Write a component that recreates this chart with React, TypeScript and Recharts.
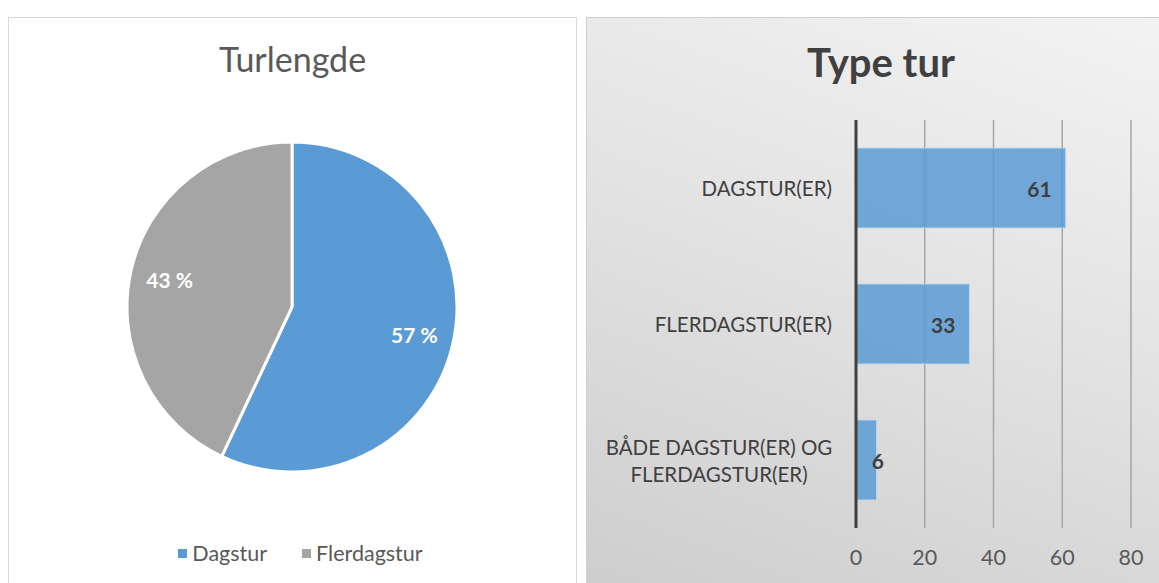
import React from 'react'
import {
  PieChart,
  Pie,
  Cell,
  Legend,
  BarChart,
  Bar,
  XAxis,
  YAxis,
  CartesianGrid,
  LabelList,
} from 'recharts'

// Turlengde (pie)
const lengthNames = ['Dagstur', 'Flerdagstur']
const lengthShares = [57, 43]
const lengthColors = ['#5b9bd5', '#a5a5a5']

// Type tur (bar)
const typeCategories = ['DAGSTUR(ER)', 'FLERDAGSTUR(ER)', 'BÅDE DAGSTUR(ER) OG FLERDAGSTUR(ER)']
const typeCounts = [61, 33, 6]
const typeTicks = [0, 20, 40, 60, 80]

const FONT = 'Lato, "Open Sans", sans-serif'

const pieData = lengthNames.map((name, i) => ({ name, value: lengthShares[i] }))
const barData = typeCategories.map((name, i) => ({ name, value: typeCounts[i] }))

const RADIAN = Math.PI / 180

// eslint-disable-next-line @typescript-eslint/no-explicit-any
function PieLabel(props: any) {
  const { cx, cy, midAngle, outerRadius, value } = props
  const r = outerRadius * 0.76
  const x = cx + r * Math.cos(-midAngle * RADIAN)
  const y = cy + r * Math.sin(-midAngle * RADIAN)
  return (
    <text x={x} y={y} fill="#fff" fontSize={21} fontWeight={700} fontFamily={FONT} textAnchor="middle" dominantBaseline="central">
      {value} %
    </text>
  )
}

// eslint-disable-next-line @typescript-eslint/no-explicit-any
function PieLegend(props: any) {
  const items = props.payload || []
  return (
    <div style={{ display: 'flex', justifyContent: 'center', gap: 35, paddingLeft: 16, fontFamily: FONT, fontSize: 21.5, color: '#595959' }}>
      {/* eslint-disable-next-line @typescript-eslint/no-explicit-any */}
      {items.map((it: any) => (
        <div key={it.value} style={{ display: 'flex', alignItems: 'center' }}>
          <span style={{ display: 'inline-block', width: 9, height: 9, background: it.color, marginRight: 5 }} />
          <span>{it.value}</span>
        </div>
      ))}
    </div>
  )
}

// eslint-disable-next-line @typescript-eslint/no-explicit-any
function CategoryTick(props: any) {
  const { x, y, payload } = props
  const label: string = payload.value
  const lines = label.length > 20 ? ['BÅDE DAGSTUR(ER) OG', 'FLERDAGSTUR(ER)'] : [label]
  const lineH = 27
  const startY = y - ((lines.length - 1) * lineH) / 2
  return (
    <g>
      {lines.length === 1 ? (
        <text x={x - 16} y={y} textAnchor="end" dominantBaseline="central" fill="#404040" fontSize={20.5} fontFamily={FONT}>
          {label}
        </text>
      ) : (
        lines.map((line, i) => (
          <text key={i} x={x - 129} y={startY + i * lineH} textAnchor="middle" dominantBaseline="central" fill="#404040" fontSize={20.5} fontFamily={FONT}>
            {line}
          </text>
        ))
      )}
    </g>
  )
}

// eslint-disable-next-line @typescript-eslint/no-explicit-any
function BarValue(props: any) {
  const { x, y, width, height, value } = props
  const endX = Math.max(x + width - 14, x + 28)
  return (
    <text x={endX} y={y + height / 2} textAnchor="end" dominantBaseline="central" fill="#404040" fontSize={21} fontWeight={700} fontFamily={FONT}>
      {value}
    </text>
  )
}

export default function App() {
  return (
    <div style={{ position: 'absolute', left: 0, top: 0, width: 1159, height: 583, background: '#fff', overflow: 'hidden', fontFamily: FONT }}>
      {/* left panel */}
      <div style={{ position: 'absolute', left: 8, top: 17, width: 567, height: 580, border: '1px solid #d9d9d9', background: '#fff' }}>
        <div style={{ position: 'absolute', left: 0, width: 567, top: 20, textAlign: 'center', fontSize: 34, color: '#595959' }}>
          Turlengde
        </div>
        <PieChart width={567} height={566} style={{ position: 'absolute', left: 0, top: 0 }}>
          <Pie
            data={pieData}
            dataKey="value"
            nameKey="name"
            cx={278}
            cy={284}
            outerRadius={165}
            startAngle={90}
            endAngle={-270}
            stroke="#fff"
            strokeWidth={3}
            label={PieLabel}
            labelLine={false}
            isAnimationActive={false}
          >
            {pieData.map((d, i) => (
              <Cell key={d.name} fill={lengthColors[i]} />
            ))}
          </Pie>
          <Legend verticalAlign="bottom" align="center" wrapperStyle={{ bottom: 18 }} content={PieLegend} />
        </PieChart>
      </div>

      {/* right panel */}
      <div
        style={{
          position: 'absolute',
          left: 586,
          top: 17,
          width: 580,
          height: 580,
          border: '1px solid #d0d0d0',
          background: 'linear-gradient(200deg, #f3f3f3 0%, #e3e3e3 45%, #cdcdcd 100%)',
        }}
      >
        <div style={{ position: 'absolute', left: 0, width: 588, top: 20, textAlign: 'center', fontSize: 40, fontWeight: 700, color: '#404040' }}>
          Type tur
        </div>
        <BarChart
          width={573}
          height={566}
          data={barData}
          layout="vertical"
          barSize={80}
          margin={{ top: 102, right: 29, left: 0, bottom: 16 }}
          style={{ position: 'absolute', left: 0, top: 0 }}
        >
          <CartesianGrid horizontal={false} stroke="#a6a6a6" strokeWidth={1.5} />
          <XAxis
            type="number"
            domain={[0, 80]}
            ticks={typeTicks}
            axisLine={false}
            tickLine={false}
            height={40}
            tick={{ fontSize: 21.5, fill: '#595959', fontFamily: FONT, dy: 14 }}
          />
          <YAxis
            type="category"
            dataKey="name"
            width={269}
            tickLine={false}
            axisLine={{ stroke: '#404040', strokeWidth: 3 }}
            tick={CategoryTick}
          />
          <Bar dataKey="value" fill="#5b9bd5" fillOpacity={0.85} stroke="#bdd7ee" strokeWidth={1} isAnimationActive={false}>
            <LabelList dataKey="value" content={BarValue} />
          </Bar>
        </BarChart>
      </div>
    </div>
  )
}
